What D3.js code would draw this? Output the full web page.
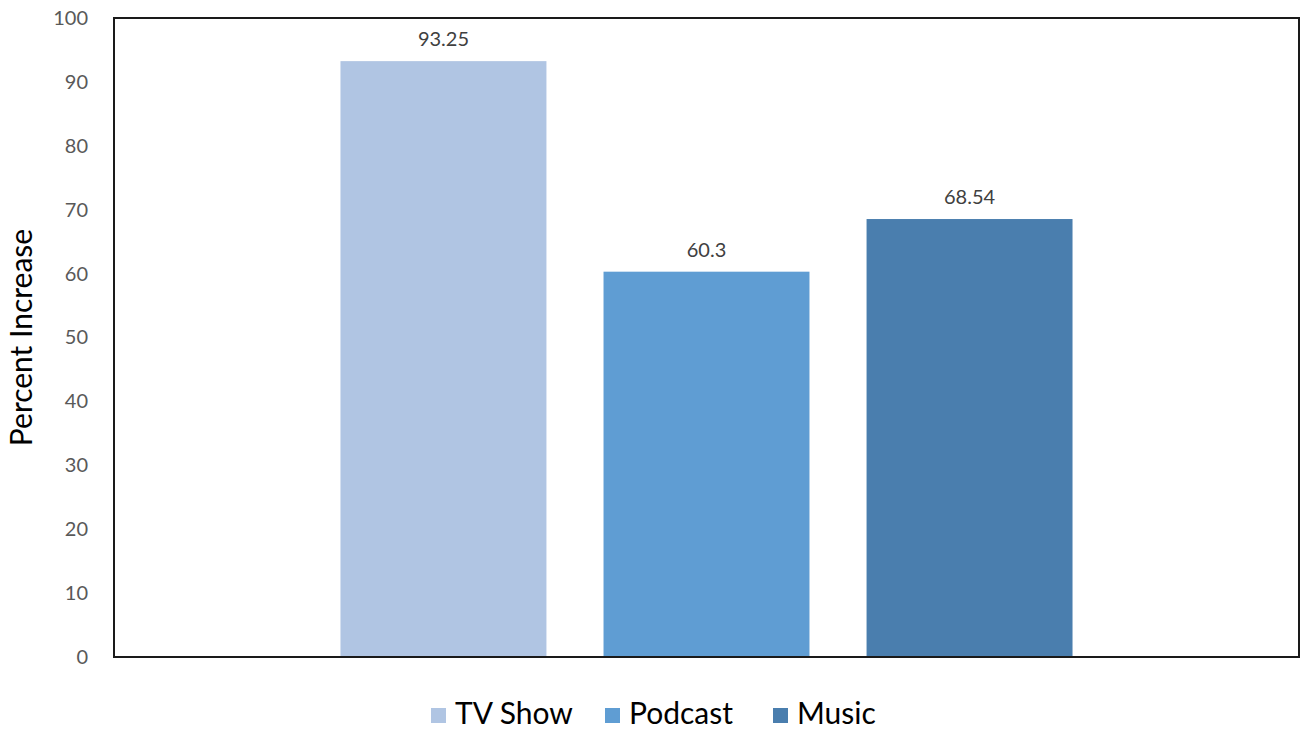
<!DOCTYPE html>
<html>
<head>
<meta charset="utf-8">
<script src="https://cdn.jsdelivr.net/npm/d3@7"></script>
<style>
  body { margin: 0; background: #fff; }
  svg text { font-family: Lato, "Open Sans", sans-serif; }
</style>
</head>
<body>
<svg id="chart" width="1302" height="731"></svg>
<script>
var series = ["TV Show", "Podcast", "Music"];
var values = [93.25, 60.3, 68.54];
var valueLabels = ["93.25", "60.3", "68.54"];
var yTicks = [0, 10, 20, 30, 40, 50, 60, 70, 80, 90, 100];
var colors = ["#B0C5E3", "#5F9DD3", "#4A7EAE"];

var svg = d3.select("svg#chart"),
	plotLeft = 114, plotRight = 1299,
	plotTop = 18, plotBottom = 657;

var x = d3.scaleBand()
	.domain(series)
	.range([plotLeft, plotRight])
	.paddingInner(0.217)
	.paddingOuter(0.861);

var y = d3.scaleLinear()
	.domain([0, 100])
	.range([plotBottom, plotTop]);

var color = d3.scaleOrdinal().domain(series).range(colors);

var data = series.map(function(s, i) { return { name: s, value: values[i], label: valueLabels[i] }; });

// bars
svg.append("g")
	.selectAll("rect")
	.data(data)
	.enter().append("rect")
	  .attr("x", function(d) { return x(d.name); })
	  .attr("y", function(d) { return y(d.value); })
	  .attr("width", x.bandwidth())
	  .attr("height", function(d) { return y(0) - y(d.value); })
	  .attr("fill", function(d) { return color(d.name); });

// value labels
svg.append("g")
	.selectAll("text")
	.data(data)
	.enter().append("text")
	  .attr("x", function(d) { return x(d.name) + x.bandwidth() / 2; })
	  .attr("y", function(d) { return y(d.value) - 15; })
	  .attr("text-anchor", "middle")
	  .attr("font-size", 20)
	  .attr("fill", "#404040")
	  .text(function(d) { return d.label; });

// y axis
var yAxis = svg.append("g")
	.attr("transform", "translate(" + plotLeft + ",0)")
	.call(d3.axisLeft(y).tickValues(yTicks).tickSize(0).tickPadding(26));
yAxis.select(".domain").remove();
yAxis.selectAll("text")
	.attr("font-size", 20)
	.attr("fill", "#595959")
	.style("font-family", "Lato, 'Open Sans', sans-serif");

// plot frame
svg.append("rect")
	.attr("x", plotLeft)
	.attr("y", plotTop)
	.attr("width", plotRight - plotLeft)
	.attr("height", plotBottom - plotTop)
	.attr("fill", "none")
	.attr("stroke", "#1a1a1a")
	.attr("stroke-width", 2);

// axis title
svg.append("text")
	.attr("transform", "translate(32," + ((plotTop + plotBottom) / 2) + ") rotate(-90)")
	.attr("text-anchor", "middle")
	.attr("font-size", 30)
	.attr("fill", "#000")
	.text("Percent Increase");

// legend
var legendX = [431, 605, 773];
var legend = svg.append("g")
	.selectAll("g")
	.data(series)
	.enter().append("g")
	  .attr("transform", function(d, i) { return "translate(" + legendX[i] + ",715)"; });

legend.append("rect")
	.attr("x", 0)
	.attr("y", -7)
	.attr("width", 15)
	.attr("height", 15)
	.attr("fill", function(d) { return color(d); });

legend.append("text")
	.attr("x", 24)
	.attr("y", 9)
	.attr("font-size", 30)
	.attr("fill", "#000")
	.text(function(d) { return d; });
</script>
</body>
</html>
